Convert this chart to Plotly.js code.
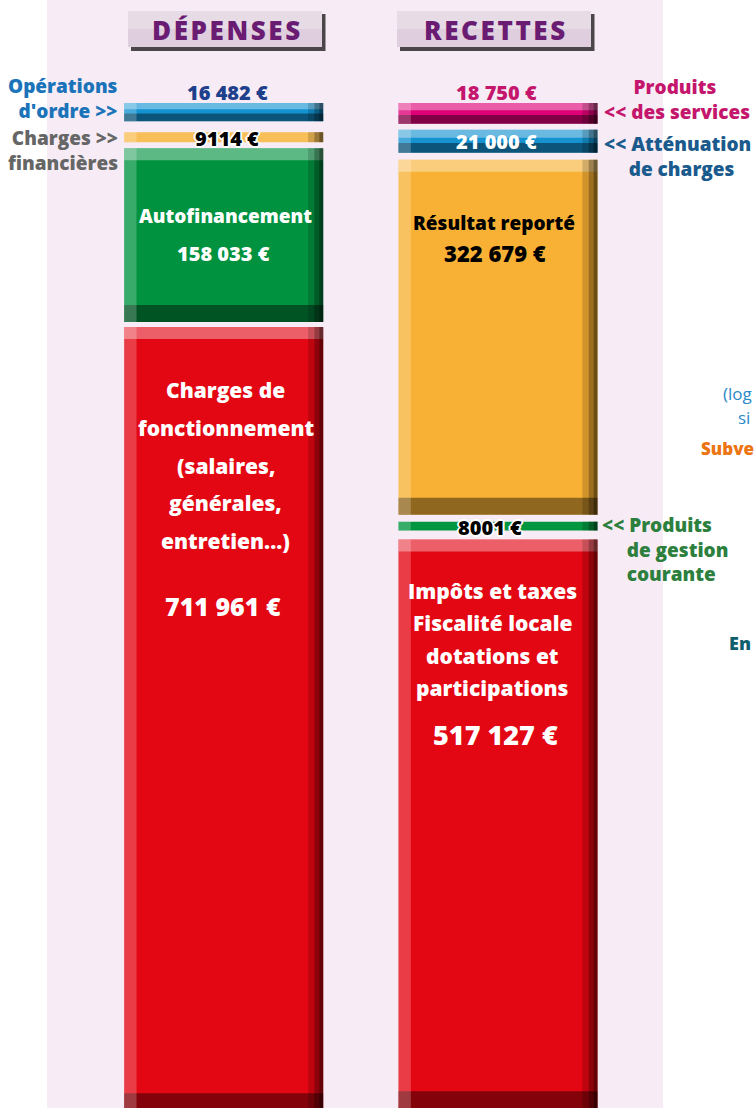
<!DOCTYPE html>
<html>
<head>
<meta charset="utf-8">
<script src="https://cdn.plot.ly/plotly-3.0.1.min.js"></script>
<style>html,body{margin:0;padding:0;background:#fff;}#chart{width:754px;height:1108px;}</style>
</head>
<body>
<div id="chart"></div>
<script>
// ---------------- DATA ----------------
const categories = ['DÉPENSES', 'RECETTES'];

const depNames = ["Opérations d'ordre", 'Charges financières', 'Autofinancement', 'Charges de fonctionnement'];
const depValues = [16482, 9114, 158033, 711961];

const recNames = ['Produits des services', 'Atténuation de charges', 'Résultat reporté', 'Produits de gestion courante', 'Impôts et taxes'];
const recValues = [18750, 21000, 322679, 8001, 517127];

// text blocks
const depOutside = [["Opérations", "d'ordre >>"], ["Charges >>", "financières"], null, null];
const depInside = [null, null, ["Autofinancement"], ["Charges de", "fonctionnement", "(salaires,", "générales,", "entretien...)"]];
const recOutside = [["Produits", "<< des services"], ["<< Atténuation", "de charges"], null, ["<< Produits", "de gestion", "courante"], null];
const recInside = [null, null, ["Résultat reporté"], null, ["Impôts et taxes", "Fiscalité locale", "dotations et", "participations"]];
const sideFragments = ['(log', 'si', 'Subve', 'En'];

// ---------------- STYLE ----------------
const W = 754, H = 1108, TOP = 103;
const PLOT_H = H - TOP;
const PX_PER_EURO = 0.0011;
const Y_MAX = PLOT_H / PX_PER_EURO;
const px2e = p => p / PX_PER_EURO;
const BAR_W = 0.7255;
const X_RANGE = [-0.8155, 1.9333];
const FONT = '"Open Sans", Lato, sans-serif';
const WT = 800;

const depColors = ['#1393d2', '#f8bf58', '#00923f', '#e30613'];
const recColors = ['#df0078', '#1592d0', '#f8b134', '#00963f', '#e30613'];
const depGapsPx = [11, 6, 5];
const recGapsPx = [6, 7, 7, 9];

function bases(values, gapsPx) {
  const out = []; let acc = 0;
  values.forEach((v, i) => { out.push(acc); acc += v + (i < gapsPx.length ? px2e(gapsPx[i]) : 0); });
  return out;
}
const depBases = bases(depValues, depGapsPx);
const recBases = bases(recValues, recGapsPx);

const fmt = v => (v >= 10000 ? String(v).replace(/\B(?=(\d{3})+(?!\d))/g, '\u00a0') : String(v)) + '\u00a0€';
const indent = n => '\u00a0'.repeat(n);

// flatten segments
const segX = [], segB = [], segV = [], segC = [];
depValues.forEach((v, i) => { segX.push(categories[0]); segB.push(depBases[i]); segV.push(v); segC.push(depColors[i]); });
recValues.forEach((v, i) => { segX.push(categories[1]); segB.push(recBases[i]); segV.push(v); segC.push(recColors[i]); });

function bar(xs, bs, vs, color, width, offset) {
  const t = {type: 'bar', x: xs, base: bs, y: vs, width: width,
    marker: {color: color, line: {width: 0}}, hoverinfo: 'skip', showlegend: false, cliponaxis: true};
  if (offset !== undefined) t.offset = offset;
  return t;
}

const traces = [];
traces.push(bar(segX, segB, segV, segC, BAR_W));
const hx = [], hb = [], hv = [], sb = [], sv = [];
segV.forEach((v, i) => {
  if (v < 10000) return;
  const th = Math.min(v * 0.35, px2e(12));
  const bh = Math.min(v * 0.42, px2e(17));
  hx.push(segX[i]); hb.push(segB[i]); hv.push(th);
  sb.push(segB[i] + v - bh); sv.push(bh);
});
traces.push(bar(hx, hb, hv, 'rgba(255,255,255,0.36)', BAR_W));
traces.push(bar(hx, sb, sv, 'rgba(0,0,0,0.42)', BAR_W));
traces.push(bar(segX, segB, segV, 'rgba(255,255,255,0.22)', 0.045, -BAR_W / 2));
traces.push(bar(segX, segB, segV, 'rgba(0,0,0,0.16)', 0.055, BAR_W / 2 - 0.055));
traces.push(bar(segX, segB, segV, 'rgba(0,0,0,0.25)', 0.032, BAR_W / 2 - 0.032));
traces.push(bar(segX, segB, segV, 'rgba(0,0,0,0.3)', 0.014, BAR_W / 2 - 0.014));

// ---------------- ANNOTATIONS ----------------
const ann = [];
const px = p => p / W;
const py = p => (H - p) / PLOT_H;
function txt(text, opts) {
  return Object.assign({text: text, showarrow: false, borderpad: 0}, opts);
}
function lineAt(text, xRef, x, xanchor, yData, shiftPx, font, align, xshift) {
  ann.push(txt(text, {xref: xRef, x: x, xanchor: xanchor, align: align || 'center', yref: 'y', y: yData, yanchor: 'middle', yshift: -shiftPx, xshift: xshift || 0,
    font: Object.assign({family: FONT, weight: WT}, font)}));
}
const HALO = '1px 1px 0 #fff, -1px -1px 0 #fff, 1px -1px 0 #fff, -1px 1px 0 #fff, 2px 0 0 #fff, -2px 0 0 #fff, 0 2px 0 #fff, 0 -2px 0 #fff';

// Dépenses
lineAt(fmt(depValues[0]), 'x', 0, 'center', depBases[0], -11, {size: 20, color: '#1d3f8c'}, 'center', 4);
lineAt(depOutside[0].join('<br>'), 'paper', px(119), 'right', depBases[0], -5, {size: 19, color: '#1b73b9'}, 'right');
lineAt(fmt(depValues[1]), 'x', 0, 'center', depBases[1], 6, {size: 20, color: '#000', shadow: HALO}, 'center', 3);
lineAt(depOutside[1].join('<br>'), 'paper', px(119), 'right', depBases[1], 18, {size: 19, color: '#666666'}, 'right');
lineAt(depInside[2][0], 'x', 0, 'center', depBases[2], 68, {size: 19, color: '#fff'}, 'center', 2);
lineAt(fmt(depValues[2]), 'x', 0, 'center', depBases[2], 105, {size: 20, color: '#fff'}, 'center', 0);
[63, 101, 139, 176, 214].forEach((s, i) => lineAt(depInside[3][i], 'x', 0, 'center', depBases[3], s, {size: 21, color: '#fff'}, 'center', 2));
lineAt(fmt(depValues[3]), 'x', 0, 'center', depBases[3], 279, {size: 25, color: '#fff'}, 'center', -1);

// Recettes
lineAt(fmt(recValues[0]), 'x', 1, 'center', recBases[0], -11, {size: 20, color: '#c4166c'}, 'center', -1);
lineAt(indent(6) + recOutside[0][0] + '<br>' + recOutside[0][1], 'paper', px(603), 'left', recBases[0], -4, {size: 19, color: '#c4166c'}, 'left');
lineAt(fmt(recValues[1]), 'x', 1, 'center', recBases[1], 11.5, {size: 20, color: '#fff'}, 'center', -1);
lineAt(recOutside[1][0] + '<br>' + indent(5) + recOutside[1][1], 'paper', px(603), 'left', recBases[1], 27, {size: 19, color: '#1a5a8c'}, 'left');
lineAt(recInside[2][0], 'x', 1, 'center', recBases[2], 63, {size: 19, color: '#000'}, 'center', -4);
lineAt(fmt(recValues[2]), 'x', 1, 'center', recBases[2], 93, {size: 22, color: '#000'}, 'center', -3);
lineAt(fmt(recValues[3]), 'x', 1, 'center', recBases[3], 5.5, {size: 20, color: '#000', shadow: HALO}, 'center', -8);
lineAt(recOutside[3][0] + '<br>' + indent(5) + recOutside[3][1] + '<br>' + indent(5) + recOutside[3][2], 'paper', px(601), 'left', recBases[3], 28, {size: 19, color: '#2d7f3e'}, 'left');
[52, 84, 117, 149].forEach((s, i) => lineAt(recInside[4][i], 'x', 1, 'center', recBases[4], s, {size: 21, color: '#fff'}, 'center', -5));
lineAt(fmt(recValues[4]), 'x', 1, 'center', recBases[4], 195, {size: 27, color: '#fff'}, 'center', -2);

// Headers
const spaced = s => s.split('').join('\u200a');
const hFont = {family: FONT, size: 26, color: '#6a1b72', weight: WT};
ann.push(txt(spaced(categories[0]), {xref: 'paper', yref: 'paper', x: px(226), y: py(30), xanchor: 'center', yanchor: 'middle', font: hFont}));
ann.push(txt(spaced(categories[1]), {xref: 'paper', yref: 'paper', x: px(495), y: py(30), xanchor: 'center', yanchor: 'middle', font: hFont}));

// fragments of the neighbouring panel (cut by the page edge in the original)
ann.push(txt(sideFragments[0], {xref: 'paper', yref: 'paper', x: px(722), y: py(393), xanchor: 'left', yanchor: 'middle', font: {family: FONT, size: 17, color: '#2a8ac8', weight: 400}}));
ann.push(txt(sideFragments[1], {xref: 'paper', yref: 'paper', x: px(737), y: py(417), xanchor: 'left', yanchor: 'middle', font: {family: FONT, size: 17, color: '#2a8ac8', weight: 400}}));
ann.push(txt(sideFragments[2], {xref: 'paper', yref: 'paper', x: px(700), y: py(448), xanchor: 'left', yanchor: 'middle', font: {family: FONT, size: 17, color: '#ec7411', weight: WT}}));
ann.push(txt(sideFragments[3], {xref: 'paper', yref: 'paper', x: px(728), y: py(643), xanchor: 'left', yanchor: 'middle', font: {family: FONT, size: 18, color: '#0f5e6e', weight: WT}}));

// ---------------- SHAPES ----------------
function rectPx(x0, y0, x1, y1, color, layer) {
  return {type: 'rect', xref: 'paper', yref: 'paper', x0: px(x0), x1: px(x1), y0: py(y1), y1: py(y0),
    fillcolor: color, line: {width: 0}, layer: layer || 'below'};
}
const shapes = [
  rectPx(47, 0, 663, H + 2, '#f7ecf5'),
  rectPx(131, 14, 325.5, 51, '#4a464a'),
  rectPx(128, 11, 322, 47, '#dfcedd'),
  rectPx(128, 11, 322, 29, '#e7dbe6'),
  rectPx(400, 14, 594.5, 51, '#4a464a'),
  rectPx(397, 11, 591, 47, '#dfcedd'),
  rectPx(397, 11, 591, 29, '#e7dbe6')
];

const layout = {
  width: W, height: H,
  margin: {l: 0, r: 0, t: TOP, b: 0, pad: 0},
  paper_bgcolor: '#ffffff', plot_bgcolor: 'rgba(0,0,0,0)',
  barmode: 'overlay', hovermode: false, showlegend: false,
  xaxis: {type: 'category', categoryorder: 'array', categoryarray: categories, range: X_RANGE, visible: false, fixedrange: true},
  yaxis: {range: [Y_MAX, 0], visible: false, fixedrange: true},
  annotations: ann, shapes: shapes,
  font: {family: FONT}
};
Plotly.newPlot('chart', traces, layout, {displayModeBar: false, staticPlot: true});
</script>
</body>
</html>
